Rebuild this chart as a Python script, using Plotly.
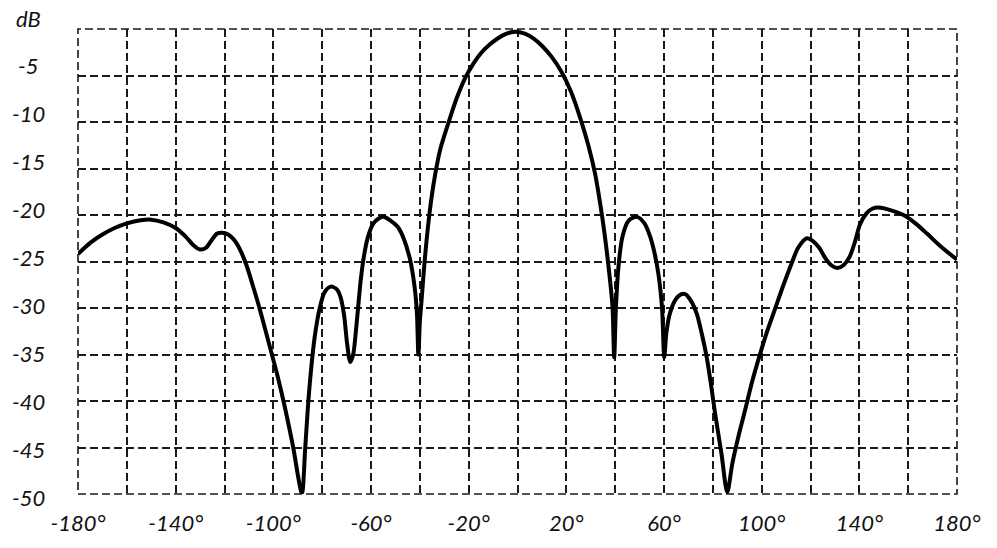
import plotly.graph_objects as go

# ---- data (angle in degrees, level in dB) ----
angle_deg = [
    -180, -175, -170, -165, -160, -155, -150, -145, -140, -136,
    -132.5, -130, -127.5, -125, -123, -121, -118.5, -116, -113.5, -111,
    -108.5, -106, -102, -98, -95, -92, -88.3, -87, -85.8, -84.5,
    -83, -81, -79, -76.5, -74, -72.5, -71, -69.8, -68.5, -67.3,
    -66.3, -65.3, -64.2, -63, -61.3, -59, -57, -55, -52, -49,
    -46.5, -44, -42.2, -41.2, -40.6, -40.0, -39.3, -38.2, -36.8, -35.3,
    -33.7, -31.7, -28.3, -25, -21.5, -18, -15, -11.5, -8, -4.5,
    -1, 3, 6.5, 10, 14, 18, 22, 25.6, 29, 31.8,
    34, 35.8, 37.6, 38.9, 39.6, 40.3, 41.4, 43, 45.5, 48.9,
    52, 54.3, 56.3, 57.8, 59.2, 60.1, 61, 62.5, 64.5, 66.5,
    68.7, 71, 73.4, 75.5, 77.5, 79.3, 80.9, 83.5, 85.9, 88,
    90.5, 93.2, 96, 99.4, 102, 104.8, 108, 111.7, 115, 118.5,
    121, 123.5, 126, 128.5, 131, 133.5, 136, 138.3, 140.3, 143,
    145.5, 148, 153, 158.1, 163, 167.7, 173, 180,
]
gain_db = [
    -24.2, -23.0, -22.1, -21.4, -20.9, -20.6, -20.5, -20.8, -21.4, -22.3,
    -23.3, -23.7, -23.5, -22.6, -22.0, -21.9, -22.1, -22.7, -23.8, -25.4,
    -27.5, -29.7, -33.6, -37.6, -41.0, -44.8, -49.9, -45.3, -40.5, -36.5,
    -33.0, -30.0, -28.3, -27.7, -28.0, -28.8, -30.8, -33.8, -35.8, -35.0,
    -32.8, -30.0, -27.0, -24.6, -22.4, -20.9, -20.4, -20.2, -20.6, -21.3,
    -22.6, -24.8, -27.6, -30.5, -35.0, -31.5, -29.2, -25.5, -21.6, -18.3,
    -15.6, -13.0, -10.1, -7.5, -5.3, -3.7, -2.6, -1.7, -1.0, -0.5,
    -0.3, -0.5, -1.0, -1.8, -3.0, -4.6, -6.8, -9.5, -12.5, -15.6,
    -19.0, -22.3, -26.3, -29.8, -35.3, -30.0, -25.4, -22.3, -20.6, -20.2,
    -20.9, -22.3, -24.3, -26.5, -30.0, -35.3, -32.6, -30.5, -29.2, -28.6,
    -28.5, -29.2, -30.6, -32.8, -35.3, -38.3, -41.3, -45.6, -49.8, -46.7,
    -43.8, -41.0, -38.0, -34.9, -32.7, -30.6, -28.2, -25.6, -23.5, -22.5,
    -22.8, -23.5, -24.6, -25.4, -25.7, -25.4, -24.5, -22.8, -21.0, -19.8,
    -19.3, -19.2, -19.5, -20.0, -20.9, -22.0, -23.3, -24.8,
]

x_tick_vals = [-180, -140, -100, -60, -20, 20, 60, 100, 140, 180]
x_tick_text = ["-180°", "-140°", "-100°", "-60°", "-20°", "20°", "60°", "100°", "140°", "180°"]
y_tick_vals = [0, -5, -10, -15, -20, -25, -30, -35, -40, -45, -50]
y_tick_text = ["dB", "-5", "-10", "-15", "-20", "-25", "-30", "-35", "-40", "-45", "-50"]

x_range = [-180, 180]
y_range = [-50, 0]

# ---- styling ----
FONT = dict(family="Lato, 'Open Sans', sans-serif", size=22, color="#111111", style="italic")
GRID_COLOR = "#1a1a1a"
GRID_WIDTH = 1.6
GRID_DASH = "8px,4px"

fig = go.Figure(
    go.Scatter(
        x=angle_deg, y=gain_db, mode="lines",
        line=dict(color="black", width=4, shape="spline", smoothing=0.8),
        hoverinfo="skip", showlegend=False,
    )
)

fig.update_layout(
    width=997, height=548,
    margin=dict(l=78, r=40, t=29, b=54),
    plot_bgcolor="white", paper_bgcolor="white",
    showlegend=False,
)

fig.update_xaxes(
    range=x_range,
    tickmode="array", tickvals=x_tick_vals, ticktext=x_tick_text,
    showgrid=True, gridcolor=GRID_COLOR, gridwidth=GRID_WIDTH, griddash=GRID_DASH,
    minor=dict(tick0=-180, dtick=20, showgrid=True, gridcolor=GRID_COLOR,
               gridwidth=GRID_WIDTH, griddash=GRID_DASH),
    zeroline=False, showline=False, ticks="",
    tickfont=FONT, ticklabelstandoff=14,
)

fig.update_yaxes(
    range=y_range,
    tickmode="array", tickvals=y_tick_vals,
    showticklabels=False,
    showgrid=True, gridcolor=GRID_COLOR, gridwidth=GRID_WIDTH, griddash=GRID_DASH,
    zeroline=False, showline=False, ticks="",
)

# dashed outer frame around the plotting area (paper refs are not clipped)
fig.add_shape(
    type="rect", xref="paper", yref="paper",
    x0=0, x1=1, y0=0, y1=1,
    line=dict(color=GRID_COLOR, width=GRID_WIDTH, dash=GRID_DASH),
    layer="above",
)

# y labels: in the reference they are spread slightly wider than the grid rows
lift_top, lift_bottom = 11, -3
for v, t in zip(y_tick_vals, y_tick_text):
    frac = (v - y_range[0]) / (y_range[1] - y_range[0])
    fig.add_annotation(
        x=0, xref="paper", y=v, yref="y",
        text=t, showarrow=False, xanchor="center", yanchor="middle",
        xshift=-50, yshift=lift_bottom + (lift_top - lift_bottom) * frac,
        font=FONT,
    )

fig.write_html("out.html", config={"displayModeBar": False})

with open("out.html", "r", encoding="utf-8") as f:
    html = f.read()
html = html.replace("<body>", '<body style="margin:0;overflow:hidden">', 1)
with open("out.html", "w", encoding="utf-8") as f:
    f.write(html)
